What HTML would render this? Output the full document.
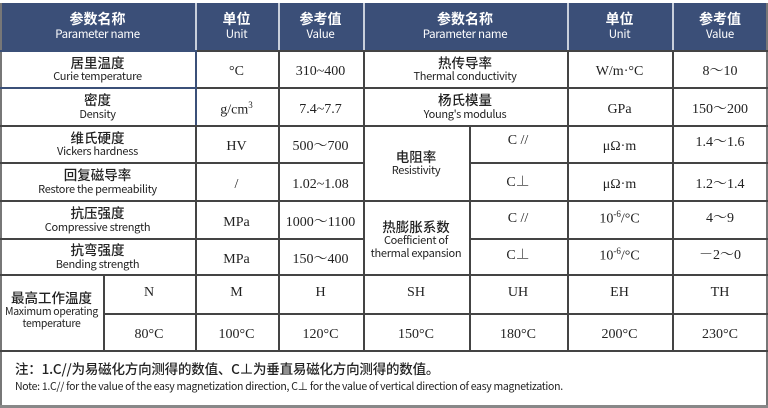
<!DOCTYPE html>
<html><head><meta charset="utf-8"><style>
*{margin:0;padding:0;box-sizing:border-box}
body{width:768px;height:408px;background:#fff;position:relative;overflow:hidden;font-family:"Liberation Sans","Noto Sans CJK SC",sans-serif;color:#222}
.h{position:absolute;height:1.5px;background:#444}
.v{position:absolute;width:1.5px;background:#444}
.c{position:absolute;display:flex;flex-direction:column;align-items:center;justify-content:center;text-align:center;line-height:1.2}
.zh{font-size:13.5px;font-weight:500;font-family:"Noto Sans CJK SC",sans-serif}
.en{font-size:11px;font-family:"Noto Sans CJK SC","Liberation Sans",sans-serif;letter-spacing:-0.3px}
.val{font-family:"Liberation Serif","Noto Serif CJK SC",serif;font-size:14px;padding-top:8px}
.valc{font-family:"Liberation Serif","Noto Serif CJK SC",serif;font-size:14px}
.hd{color:#fff}
.hd .zh{font-size:14px;font-weight:600}
.hd .en{font-size:11.5px}
</style></head><body>
<div style="position:absolute;left:0;top:3px;width:768px;height:47px;background:#3b4f78"></div>
<div class="v" style="left:195px;top:3px;height:47px;background:#c8cfdb"></div>
<div class="v" style="left:278px;top:3px;height:47px;background:#c8cfdb"></div>
<div class="v" style="left:363px;top:3px;height:47px;background:#c8cfdb"></div>
<div class="v" style="left:567px;top:3px;height:47px;background:#c8cfdb"></div>
<div class="v" style="left:672px;top:3px;height:47px;background:#c8cfdb"></div>
<div class="v" style="left:0;top:3px;height:405px;width:2px;background:#777"></div>
<div class="v" style="left:766px;top:3px;height:405px;width:2px;background:#777"></div>
<div class="h" style="left:0;top:405px;width:768px;height:3px;background:#888"></div>
<div class="h" style="left:0;top:50px;width:195px;background:#3b5078"></div>
<div class="h" style="left:195px;top:50px;width:573px"></div>
<div class="h" style="left:0;top:87px;width:195px;background:#3b5078"></div>
<div class="h" style="left:195px;top:87px;width:573px"></div>
<div class="h" style="left:0;top:125px;width:768px"></div>
<div class="h" style="left:0;top:162px;width:363px"></div>
<div class="h" style="left:469px;top:162px;width:299px"></div>
<div class="h" style="left:0;top:200px;width:768px"></div>
<div class="h" style="left:0;top:238px;width:363px"></div>
<div class="h" style="left:469px;top:238px;width:299px"></div>
<div class="h" style="left:0;top:274px;width:768px"></div>
<div class="h" style="left:103px;top:313px;width:665px"></div>
<div class="h" style="left:0;top:350px;width:768px"></div>
<div class="v" style="left:195px;top:50px;height:75px;background:#3b5078"></div>
<div class="v" style="left:195px;top:125px;height:225px"></div>
<div class="v" style="left:278px;top:50px;height:300px"></div>
<div class="v" style="left:363px;top:50px;height:300px"></div>
<div class="v" style="left:469px;top:125px;height:225px"></div>
<div class="v" style="left:567px;top:50px;height:300px"></div>
<div class="v" style="left:672px;top:50px;height:300px"></div>
<div class="v" style="left:103px;top:274px;height:76px"></div>

<div class="c hd" style="left:0;top:3px;width:195px;height:47px"><div class="zh">参数名称</div><div class="en">Parameter name</div></div>
<div class="c hd" style="left:195px;top:3px;width:83px;height:47px"><div class="zh">单位</div><div class="en">Unit</div></div>
<div class="c hd" style="left:278px;top:3px;width:85px;height:47px"><div class="zh">参考值</div><div class="en">Value</div></div>
<div class="c hd" style="left:363px;top:3px;width:204px;height:47px"><div class="zh">参数名称</div><div class="en">Parameter name</div></div>
<div class="c hd" style="left:567px;top:3px;width:105px;height:47px"><div class="zh">单位</div><div class="en">Unit</div></div>
<div class="c hd" style="left:672px;top:3px;width:96px;height:47px"><div class="zh">参考值</div><div class="en">Value</div></div>

<div class="c" style="left:0;top:50px;width:195px;height:37px"><div class="zh">居里温度</div><div class="en">Curie temperature</div></div>
<div class="c val" style="left:195px;top:50px;width:83px;height:37px">°C</div>
<div class="c val" style="left:278px;top:50px;width:85px;height:37px">310~400</div>
<div class="c" style="left:0;top:87px;width:195px;height:38px"><div class="zh">密度</div><div class="en">Density</div></div>
<div class="c val" style="left:195px;top:87px;width:83px;height:38px"><span>g/cm<sup style="font-size:9px">3</sup></span></div>
<div class="c val" style="left:278px;top:87px;width:85px;height:38px">7.4~7.7</div>
<div class="c" style="left:0;top:125px;width:195px;height:37px"><div class="zh">维氏硬度</div><div class="en">Vickers hardness</div></div>
<div class="c val" style="left:195px;top:125px;width:83px;height:37px">HV</div>
<div class="c val" style="left:278px;top:125px;width:85px;height:37px">500～700</div>
<div class="c" style="left:0;top:162px;width:195px;height:38px"><div class="zh">回复磁导率</div><div class="en">Restore the permeability</div></div>
<div class="c val" style="left:195px;top:162px;width:83px;height:38px">/</div>
<div class="c val" style="left:278px;top:162px;width:85px;height:38px">1.02~1.08</div>
<div class="c" style="left:0;top:200px;width:195px;height:38px"><div class="zh">抗压强度</div><div class="en">Compressive strength</div></div>
<div class="c val" style="left:195px;top:200px;width:83px;height:38px">MPa</div>
<div class="c val" style="left:278px;top:200px;width:85px;height:38px">1000～1100</div>
<div class="c" style="left:0;top:238px;width:195px;height:36px"><div class="zh">抗弯强度</div><div class="en">Bending strength</div></div>
<div class="c val" style="left:195px;top:238px;width:83px;height:36px">MPa</div>
<div class="c val" style="left:278px;top:238px;width:85px;height:36px">150～400</div>

<div class="c" style="left:363px;top:50px;width:204px;height:37px"><div class="zh">热传导率</div><div class="en">Thermal conductivity</div></div>
<div class="c val" style="left:567px;top:50px;width:105px;height:37px">W/m·°C</div>
<div class="c val" style="left:672px;top:50px;width:96px;height:37px">8～10</div>
<div class="c" style="left:363px;top:87px;width:204px;height:38px"><div class="zh">杨氏模量</div><div class="en">Young's modulus</div></div>
<div class="c val" style="left:567px;top:87px;width:105px;height:38px">GPa</div>
<div class="c val" style="left:672px;top:87px;width:96px;height:38px">150～200</div>
<div class="c" style="left:363px;top:125px;width:106px;height:75px"><div class="zh">电阻率</div><div class="en">Resistivity</div></div>
<div class="c valc" style="left:469px;top:125px;width:98px;height:37px;padding-bottom:4px">C //</div>
<div class="c val" style="left:567px;top:125px;width:105px;height:37px">μΩ·m</div>
<div class="c valc" style="left:672px;top:125px;width:96px;height:37px">1.4～1.6</div>
<div class="c valc" style="left:469px;top:162px;width:98px;height:38px;padding-top:4px">C⊥</div>
<div class="c val" style="left:567px;top:162px;width:105px;height:38px">μΩ·m</div>
<div class="c val" style="left:672px;top:162px;width:96px;height:38px">1.2～1.4</div>
<div class="c" style="left:363px;top:200px;width:106px;height:74px;padding-top:4px"><div class="zh">热膨胀系数</div><div class="en">Coefficient of<br>thermal expansion</div></div>
<div class="c valc" style="left:469px;top:200px;width:98px;height:38px">C //</div>
<div class="c valc" style="left:567px;top:200px;width:105px;height:38px"><span>10<sup style="font-size:9px">-6</sup>/°C</span></div>
<div class="c valc" style="left:672px;top:200px;width:96px;height:38px">4～9</div>
<div class="c valc" style="left:469px;top:238px;width:98px;height:36px">C⊥</div>
<div class="c valc" style="left:567px;top:238px;width:105px;height:36px"><span>10<sup style="font-size:9px">-6</sup>/°C</span></div>
<div class="c valc" style="left:672px;top:238px;width:96px;height:36px">－2～0</div>

<div class="c" style="left:0;top:274px;width:103px;height:76px;padding-bottom:4px"><div class="zh">最高工作温度</div><div class="en" style="font-size:10.5px">Maximum operating<br>temperature</div></div>
<div class="c valc" style="left:103px;top:274px;width:92px;height:39px">N</div>
<div class="c valc" style="left:195px;top:274px;width:83px;height:39px">M</div>
<div class="c valc" style="left:278px;top:274px;width:85px;height:39px">H</div>
<div class="c valc" style="left:363px;top:274px;width:106px;height:39px">SH</div>
<div class="c valc" style="left:469px;top:274px;width:98px;height:39px">UH</div>
<div class="c valc" style="left:567px;top:274px;width:105px;height:39px">EH</div>
<div class="c valc" style="left:672px;top:274px;width:96px;height:39px">TH</div>
<div class="c val" style="left:103px;top:313px;width:92px;height:37px">80°C</div>
<div class="c val" style="left:195px;top:313px;width:83px;height:37px">100°C</div>
<div class="c val" style="left:278px;top:313px;width:85px;height:37px">120°C</div>
<div class="c val" style="left:363px;top:313px;width:106px;height:37px">150°C</div>
<div class="c val" style="left:469px;top:313px;width:98px;height:37px">180°C</div>
<div class="c val" style="left:567px;top:313px;width:105px;height:37px">200°C</div>
<div class="c val" style="left:672px;top:313px;width:96px;height:37px">230°C</div>

<div style="position:absolute;left:15px;top:358px;font-size:13.5px;font-weight:500;font-family:'Noto Sans CJK SC',sans-serif;white-space:nowrap;letter-spacing:-0.2px">注：1.C//为易磁化方向测得的数值、C⊥为垂直易磁化方向测得的数值。</div>
<div style="position:absolute;left:15px;top:379px;font-size:10.5px;font-family:'Noto Sans CJK SC',sans-serif;white-space:nowrap;letter-spacing:-0.3px">Note: 1.C// for the value of the easy magnetization direction,  C⊥ for the value of vertical direction of easy magnetization.</div>
</body></html>
